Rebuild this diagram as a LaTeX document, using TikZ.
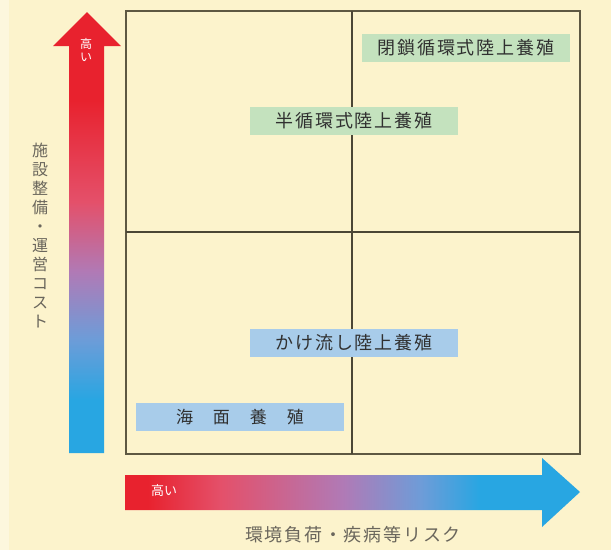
\documentclass[tikz,border=0pt]{standalone}
\usepackage{fontspec}
\newfontfamily\jp{Noto Sans CJK JP}
\newfontfamily\jpsp[LetterSpace=10]{Noto Sans CJK JP}
\definecolor{bg}{HTML}{FCF3CC}
\definecolor{gridc}{HTML}{5E5842}
\definecolor{greenbox}{HTML}{C4E2BE}
\definecolor{bluebox}{HTML}{A8CCEA}
\definecolor{txt}{HTML}{303030}
\definecolor{lbl}{HTML}{6A665C}
\definecolor{gr1}{HTML}{E8222E}
\definecolor{gr2}{HTML}{E4506A}
\definecolor{gr3}{HTML}{B07AB6}
\definecolor{gr4}{HTML}{6E9CD8}
\definecolor{gr5}{HTML}{28A6E2}
\pgfdeclareverticalshading{vgrad}{100bp}{color(0bp)=(gr5); color(25bp)=(gr5); color(31bp)=(gr5); color(38bp)=(gr4); color(45.5bp)=(gr3); color(53.5bp)=(gr2); color(65bp)=(gr1); color(75bp)=(gr1); color(100bp)=(gr1)}
\pgfdeclarehorizontalshading{hgrad}{100bp}{color(0bp)=(gr1); color(25bp)=(gr1); color(27.5bp)=(gr1); color(35.5bp)=(gr2); color(49bp)=(gr3); color(57.5bp)=(gr4); color(64bp)=(gr5); color(75bp)=(gr5); color(100bp)=(gr5)}
\tikzset{
  catbox/.style={minimum width=208pt, minimum height=28pt, inner sep=0pt, font=\jpsp\fontsize{18}{18}\selectfont, text=txt},
  greencat/.style={catbox, fill=greenbox},
  bluecat/.style={catbox, fill=bluebox},
  axislabel/.style={font=\jp\fontsize{16}{19}\selectfont, text=lbl, align=center, inner sep=0pt},
  highlabel/.style={font=\jp\fontsize{12}{13}\selectfont, text=white, align=center, inner sep=0pt},
}
\begin{document}
\begin{tikzpicture}[x=1pt,y=-1pt]
\useasboundingbox (0,0) rectangle (611,550);
\fill[bg] (0,0) rectangle (611,550);
\fill[white,opacity=0.35] (0,0) rectangle (9,550);
% grid
\draw[gridc,line width=1.4pt] (126,11) rectangle (580,454);
\draw[gridc!80!black,line width=1.2pt] (352,11) -- (352,454);
\draw[gridc!80!black,line width=1.2pt] (126,232) -- (580,232);
% vertical arrow
\shade[shading=vgrad] (69,453) -- (69,46) -- (53,46) -- (87,12) -- (121,46) -- (104,46) -- (104,453) -- cycle;
% horizontal arrow
\shade[shading=hgrad] (125,475) -- (542,475) -- (542,458) -- (580,492) -- (542,527) -- (542,510) -- (125,510) -- cycle;
% labels
\node[highlabel] (vhigh) at (86,50) {高\\い};
\node[highlabel, font=\jp\fontsize{13}{13}\selectfont] (hhigh) at (164,491) {高い};
\node[axislabel] (vlabel) at (40,236) {施\\設\\整\\備\\・\\運\\営\\コ\\ス\\ト};
\node[axislabel, font=\jpsp\fontsize{18}{18}\selectfont] (hlabel) at (353,535) {環境負荷・疾病等リスク};
% categories
\node[greencat] (closed) at (466,48) {閉鎖循環式陸上養殖};
\node[greencat] (semi) at (354,121) {半循環式陸上養殖};
\node[bluecat] (flow) at (354,343) {かけ流し陸上養殖};
\node[bluecat, font=\jp\fontsize{17}{17}\selectfont] (sea) at (240,417) {海\hspace{20pt}面\hspace{20pt}養\hspace{20pt}殖\hspace{14pt}};
\end{tikzpicture}
\end{document}
